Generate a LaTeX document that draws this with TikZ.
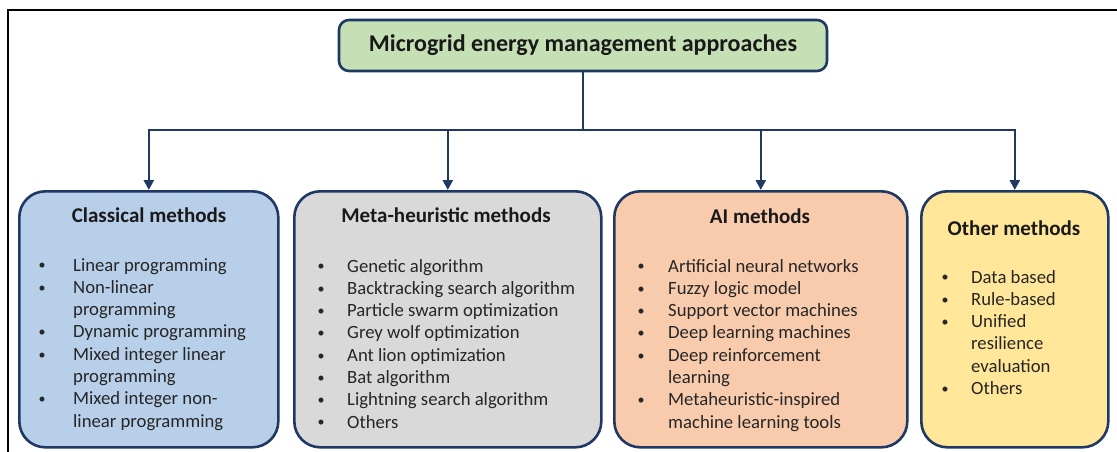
\documentclass[tikz,border=0pt]{standalone}
\usepackage{fontspec}
\setmainfont{Carlito}
\usetikzlibrary{arrows.meta}

\definecolor{navy}{HTML}{1F3864}
\definecolor{clsfill}{HTML}{B8CFE9}
\definecolor{metfill}{HTML}{D9D9D9}
\definecolor{aifill}{HTML}{F8CBAD}
\definecolor{othfill}{HTML}{FFE699}
\definecolor{topfill}{HTML}{C5E0B4}
\definecolor{bodytext}{HTML}{262626}

\newcommand\bodyfont{\fontsize{18.7}{22.3}\selectfont}
\newcommand\headfont{\fontsize{21}{25}\selectfont\bfseries}
\newcommand\titlefont{\fontsize{24}{28}\selectfont\bfseries}

% bullet lists: \bitem starts a bulleted line, \bcont continues it
\newlength\bulind
\newcommand\smallbullet{\raisebox{1.2pt}{\scalebox{0.75}{\textbullet}}}
\newcommand\bitem[1]{\par\noindent\makebox[\bulind][l]{\smallbullet}#1}
\newcommand\bcont[1]{\par\noindent\hspace*{\bulind}#1}
\newcommand\blist[2]{\setlength\bulind{#1}%
  \vtop{\hsize=260pt\parindent=0pt\parskip=0pt\baselineskip=22.3pt #2}}

\tikzset{
  catbox/.style={draw=navy, line width=2.6pt, rounded corners=26pt,
    anchor=north west, inner sep=0pt, minimum height=256pt},
  titlebox/.style={draw=navy, line width=2.6pt, rounded corners=10pt,
    fill=topfill, minimum width=488pt, minimum height=51pt, inner sep=0pt,
    font=\titlefont, text=black!90},
  head/.style={font=\headfont, text=black!90, inner sep=0pt},
  body/.style={anchor=base west, inner sep=0pt, font=\bodyfont, text=bodytext},
  conn/.style={draw=navy, line width=2.6pt, line join=miter},
  arr/.style={conn, -{Triangle[length=10pt,width=10pt]}}
}

\begin{document}
\begin{tikzpicture}[x=1pt, y=-1pt]
\useasboundingbox (0,0) rectangle (1117,452);

% outer frame (top and left edges)
\draw[line width=2pt] (8,452) -- (8,10) -- (1117,10);

% root
\node[titlebox] (root) at (583,45.5) {Microgrid energy management approaches};

% category boxes
\node[catbox, fill=clsfill, minimum width=259pt] (cls) at (18,190) {};
\node[catbox, fill=metfill, minimum width=307pt] (met) at (293,190) {};
\node[catbox, fill=aifill,  minimum width=293pt] (ai)  at (613,190) {};
\node[catbox, fill=othfill, minimum width=187pt] (oth) at (920,190) {};

% connectors
\coordinate (bus) at (583,130);
\draw[arr] (root.south) -- (root.south |- bus) -| (cls.north);
\draw[arr] (root.south |- bus) -| (oth.north);
\draw[arr] (met.north |- bus) -- (met.north);
\draw[arr] (ai.north |- bus) -- (ai.north);

% headings
\node[head] (clsH) at (149,215) {Classical methods};
\node[head] (metH) at (446,215) {Meta-heuristic methods};
\node[head] (aiH)  at (760,216) {AI methods};
\node[head] (othH) at (1014,228) {Other methods};

% lists
\node[body] (clsL) at (38.5,271) {\blist{34.5pt}{%
  \bitem{Linear programming}
  \bitem{Non-linear}
  \bcont{programming}
  \bitem{Dynamic programming}
  \bitem{Mixed integer linear}
  \bcont{programming}
  \bitem{Mixed integer non-}
  \bcont{linear programming}}};

\node[body] (metL) at (317.5,272) {\blist{29.5pt}{%
  \bitem{Genetic algorithm}
  \bitem{Backtracking search algorithm}
  \bitem{Particle swarm optimization}
  \bitem{Grey wolf optimization}
  \bitem{Ant lion optimization}
  \bitem{Bat algorithm}
  \bitem{Lightning search algorithm}
  \bitem{Others}}};

\node[body] (aiL) at (637.5,272) {\blist{30.5pt}{%
  \bitem{Artificial neural networks}
  \bitem{Fuzzy logic model}
  \bitem{Support vector machines}
  \bitem{Deep learning machines}
  \bitem{Deep reinforcement}
  \bcont{learning}
  \bitem{Metaheuristic-inspired}
  \bcont{machine learning tools}}};

\node[body] (othL) at (941.5,283) {\blist{29.5pt}{%
  \bitem{Data based}
  \bitem{Rule-based}
  \bitem{Unified}
  \bcont{resilience}
  \bcont{evaluation}
  \bitem{Others}}};
\end{tikzpicture}
\end{document}
